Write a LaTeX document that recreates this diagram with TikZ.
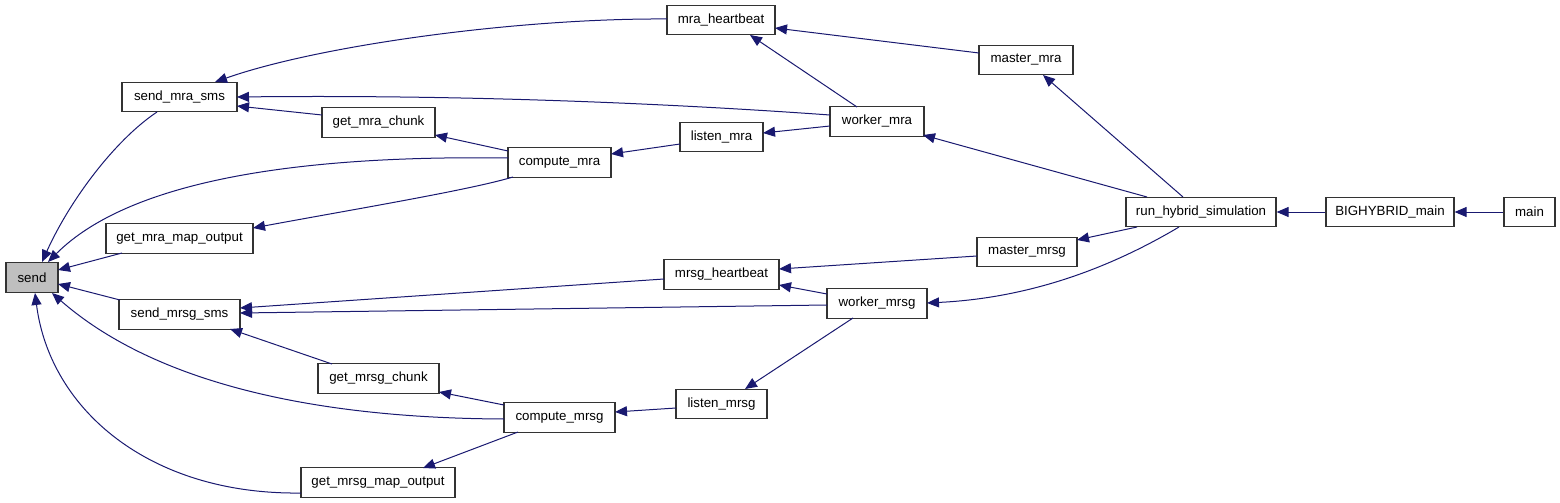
\documentclass[tikz,border=0pt]{standalone}
\usepackage{fontspec}
\setmainfont{Liberation Sans}
\usetikzlibrary{arrows.meta,calc}
\definecolor{edgeblue}{HTML}{191970}
\definecolor{boxline}{HTML}{333333}
\definecolor{sendfill}{HTML}{BFBFBF}
\tikzset{
  fn/.style={draw=boxline, line width=1.2pt, fill=white, minimum height=29.5pt, inner sep=0pt, font=\fontsize{13.3}{15}\selectfont, anchor=center},
  edge/.style={draw=edgeblue, line width=1pt, {Triangle[length=12pt,width=10pt]}-},
}
\begin{document}
\begin{tikzpicture}[x=1pt,y=-1pt]
\useasboundingbox (0,0) rectangle (1560,503);
\node[fn, fill=sendfill, minimum width=52pt] (send) at (32,277.5) {send};
\node[fn, minimum width=115pt] (smra) at (179.5,97) {send\_mra\_sms};
\node[fn, minimum width=147pt] (gmramap) at (179.5,238.5) {get\_mra\_map\_output};
\node[fn, minimum width=121pt] (smrsg) at (179.5,314.5) {send\_mrsg\_sms};
\node[fn, minimum width=154pt] (gmrsgmap) at (378,482.5) {get\_mrsg\_map\_output};
\node[fn, minimum width=113pt] (gmrachunk) at (378.5,122.5) {get\_mra\_chunk};
\node[fn, minimum width=103pt] (cmra) at (559.5,162.5) {compute\_mra};
\node[fn, minimum width=121pt] (gmrsgchunk) at (378.5,378.5) {get\_mrsg\_chunk};
\node[fn, minimum width=111pt] (cmrsg) at (559.5,417.5) {compute\_mrsg};
\node[fn, minimum width=108pt] (hbmra) at (721,20) {mra\_heartbeat};
\node[fn, minimum width=83pt] (lmra) at (721.5,137) {listen\_mra};
\node[fn, minimum width=115pt] (hbmrsg) at (721.5,274.5) {mrsg\_heartbeat};
\node[fn, minimum width=91pt] (lmrsg) at (721.5,404) {listen\_mrsg};
\node[fn, minimum width=94pt] (wmra) at (877,121.5) {worker\_mra};
\node[fn, minimum width=100pt] (wmrsg) at (877,303.5) {worker\_mrsg};
\node[fn, minimum width=94pt] (mmra) at (1026,60) {master\_mra};
\node[fn, minimum width=100pt] (mmrsg) at (1027,252) {master\_mrsg};
\node[fn, minimum width=150pt] (rhs) at (1201,212) {run\_hybrid\_simulation};
\node[fn, minimum width=128pt] (bhm) at (1390,212) {BIGHYBRID\_main};
\node[fn, minimum width=51pt] (main) at (1529.5,212) {main};

% into send
\draw[edge] ($(send.center)+(10,-15.5)$) .. controls (70,200) and (115,140) .. ($(smra.center)+(-22.5,15)$);
\draw[edge] ($(send.center)+(16,-15.5)$) .. controls (130,180) and (300,155) .. ($(cmra.center)+(-51.5,-4.5)$);
\draw[edge] ($(send.center)+(26,-7.5)$) -- ($(gmramap.center)+(-57.5,14.5)$);
\draw[edge] ($(send.center)+(26,6.5)$) -- ($(smrsg.center)+(-59.5,-14.5)$);
\draw[edge] ($(send.center)+(20,15.5)$) .. controls (140,370) and (280,418) .. ($(cmrsg.center)+(-55.5,1.5)$);
\draw[edge] ($(send.center)+(3,15.5)$) .. controls (50,410) and (150,495) .. ($(gmrsgmap.center)+(-77,10.5)$);
% mra side
\draw[edge] ($(smra.center)+(35.5,-15)$) .. controls (320,45) and (520,18) .. ($(hbmra.center)+(-54,-1)$);
\draw[edge] ($(smra.center)+(57.5,0)$) .. controls (420,95) and (620,100) .. ($(wmra.center)+(-47,-6.5)$);
\draw[edge] ($(smra.center)+(57.5,9)$) -- ($(gmrachunk.center)+(-56.5,-7.5)$);
\draw[edge] ($(gmrachunk.center)+(56.5,12.5)$) -- ($(cmra.center)+(-51.5,-11.5)$);
\draw[edge] ($(gmramap.center)+(73.5,-10.5)$) .. controls (350,210) and (470,190) .. ($(cmra.center)+(-46.5,14.5)$);
\draw[edge] ($(cmra.center)+(51.5,-8.5)$) -- ($(lmra.center)+(-41.5,7)$);
\draw[edge] ($(lmra.center)+(41.5,-4)$) -- ($(wmra.center)+(-47,4.5)$);
\draw[edge] ($(hbmra.center)+(54,8)$) -- ($(mmra.center)+(-47,-7)$);
\draw[edge] ($(hbmra.center)+(29,15)$) -- ($(wmra.center)+(-20,-14.5)$);
\draw[edge] ($(mmra.center)+(17,15)$) -- ($(rhs.center)+(-18,-15)$);
\draw[edge] ($(wmra.center)+(46,13.5)$) -- ($(rhs.center)+(-54,-15)$);
% mrsg side
\draw[edge] ($(smrsg.center)+(60.5,-6.5)$) -- ($(hbmrsg.center)+(-57.5,4.5)$);
\draw[edge] ($(smrsg.center)+(60.5,-1.5)$) -- ($(wmrsg.center)+(-50,1.5)$);
\draw[edge] ($(smrsg.center)+(50.5,14.5)$) -- ($(gmrsgchunk.center)+(-46.5,-14.5)$);
\draw[edge] ($(gmrsgchunk.center)+(60.5,13.5)$) -- ($(cmrsg.center)+(-55.5,-12.5)$);
\draw[edge] ($(gmrsgmap.center)+(45,-14.5)$) -- ($(cmrsg.center)+(-41.5,14.5)$);
\draw[edge] ($(cmrsg.center)+(55.5,-5.5)$) -- ($(lmrsg.center)+(-45.5,4)$);
\draw[edge] ($(lmrsg.center)+(23.5,-15)$) -- ($(wmrsg.center)+(-24,14.5)$);
\draw[edge] ($(hbmrsg.center)+(57.5,-5.5)$) -- ($(mmrsg.center)+(-50,4)$);
\draw[edge] ($(hbmrsg.center)+(57.5,10.5)$) -- ($(wmrsg.center)+(-50,-9.5)$);
\draw[edge] ($(mmrsg.center)+(50,-12)$) -- ($(rhs.center)+(-64,15)$);
\draw[edge] ($(wmrsg.center)+(50,-0.5)$) .. controls (1030,298) and (1110,268) .. ($(rhs.center)+(-22,15)$);
% main chain
\draw[edge] (rhs.east) -- (bhm.west);
\draw[edge] (bhm.east) -- (main.west);
\end{tikzpicture}
\end{document}
